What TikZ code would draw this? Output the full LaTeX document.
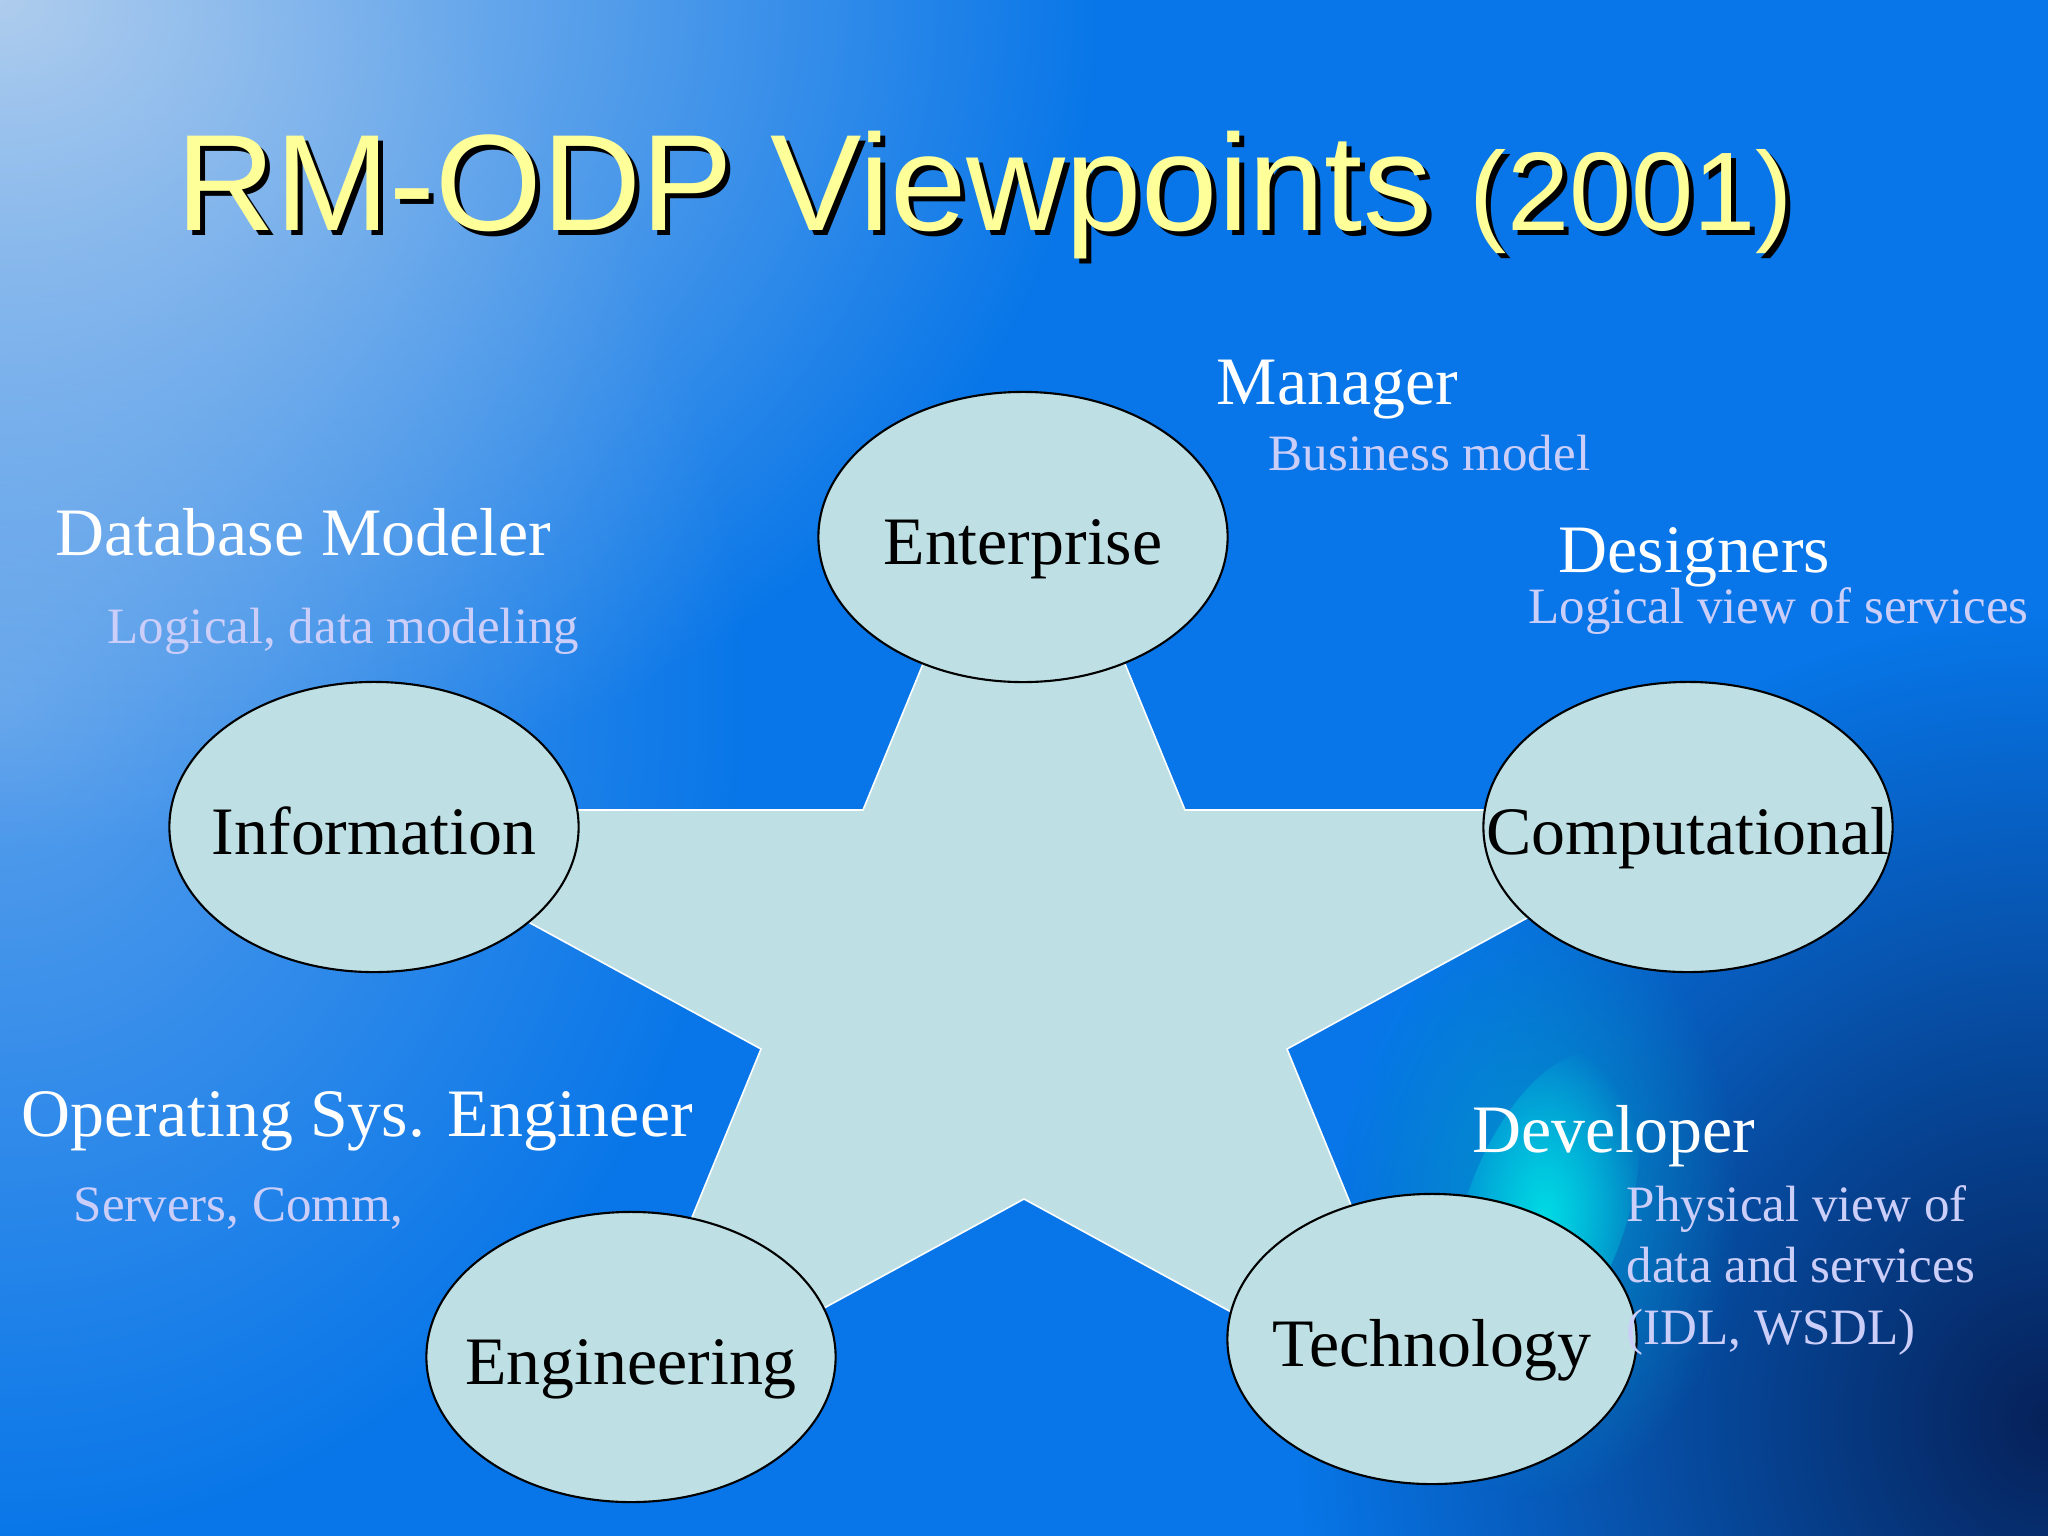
\documentclass[tikz,border=0pt]{standalone}
\usepackage{fontspec}
\setmainfont{Liberation Serif}
\newfontfamily\titlefont{Liberation Sans}
\usetikzlibrary{shapes.geometric,fadings}
\newcommand{\ellw}{4.09cm}
\newcommand{\ellh}{2.90cm}

\definecolor{bgblue}{RGB}{8,118,232}
\definecolor{palesky}{RGB}{175,205,238}
\definecolor{midsky}{RGB}{90,160,236}
\definecolor{deepnavy}{RGB}{6,34,90}
\definecolor{tealhaze}{RGB}{0,170,215}
\definecolor{flarecyan}{RGB}{0,218,228}
\definecolor{viewfill}{RGB}{190,224,228}
\definecolor{titleyellow}{RGB}{255,255,153}
\definecolor{tasklilac}{RGB}{204,206,250}

\tikzfading[name=glow, inner color=transparent!0, outer color=transparent!100]

\begin{document}
\begin{tikzpicture}[x=0.01cm, y=-0.01cm,
    view/.style={draw=black, line width=0.6pt, fill=viewfill, ellipse, minimum width=\ellw, minimum height=\ellh, inner xsep=-1.2cm, inner ysep=0pt, text height=0.54cm, text depth=0pt, font=\fontsize{19.3}{23}\selectfont},
    role/.style={anchor=base west, text=white, inner sep=0pt, font=\fontsize{19.3}{23}\selectfont},
    task/.style={anchor=base west, text=tasklilac, inner sep=0pt, font=\fontsize{14.5}{17.4}\selectfont},
    heading/.style={anchor=base west, inner sep=0pt, font=\titlefont\fontsize{39}{46}\selectfont}]
    \useasboundingbox (0,0) rectangle (2048,1536);

    % Background
    \fill[bgblue] (0,0) rectangle (2048,1536);
    \fill[midsky, path fading=glow] (0,700) ellipse [x radius=750, y radius=850];
    \fill[palesky, path fading=glow] (0,0) ellipse [x radius=1100, y radius=850];
    \fill[deepnavy, path fading=glow] (2048,1420) ellipse [x radius=750, y radius=800];
    \fill[tealhaze, path fading=glow, opacity=0.7] (1540,1200) ellipse [x radius=200, y radius=300];
    \fill[flarecyan, path fading=glow, rotate around={-20:(1545,1215)}] (1545,1215) ellipse [x radius=80, y radius=170];

    % Title
    \node[heading, text=black] (title-shadow) at (181,235) {RM-ODP Viewpoints \fontsize{31.8}{38}\selectfont(2001)};
    \node[heading, text=titleyellow] (title) at (176,230) {RM-ODP Viewpoints \fontsize{31.8}{38}\selectfont(2001)};

    % Star
    \draw[white, line width=0.45pt, fill=viewfill] (1024,418) -- (1185,810) -- (1725,810) -- (1287,1049) -- (1442,1427) -- (1024,1199) -- (606,1427) -- (761,1049) -- (323,810) -- (863,810) -- cycle;

    % Viewpoints
    \node[view] (enterprise) at (1023,537) {Enterprise};
    \node[view] (information) at (374,827) {Information};
    \node[view] (computational) at (1688,827) {Computational};
    \node[view] (engineering) at (631,1357) {Engineering};
    \node[view] (technology) at (1432,1339) {Technology};

    % Roles
    \node[role] (manager) at (1216,404) {Manager};
    \node[task] (manager-task) at (1268,470) {Business model};
    \node[role] (designers) at (1558,572) {Designers};
    \node[task] (designers-task) at (1528,623) {Logical view of services};
    \node[role] (modeler) at (55,555) {Database Modeler};
    \node[task] (modeler-task) at (107,643) {Logical, data modeling};
    \node[role] (osengineer) at (21,1136) {Operating Sys. Engineer};
    \node[task] (osengineer-task) at (73,1221) {Servers, Comm,};
    \node[role] (developer) at (1472,1152) {Developer};
    \node[task, align=left] (developer-task) at (1626,1344) {Physical view of\\data and services\\(IDL, WSDL)};

\end{tikzpicture}
\end{document}
